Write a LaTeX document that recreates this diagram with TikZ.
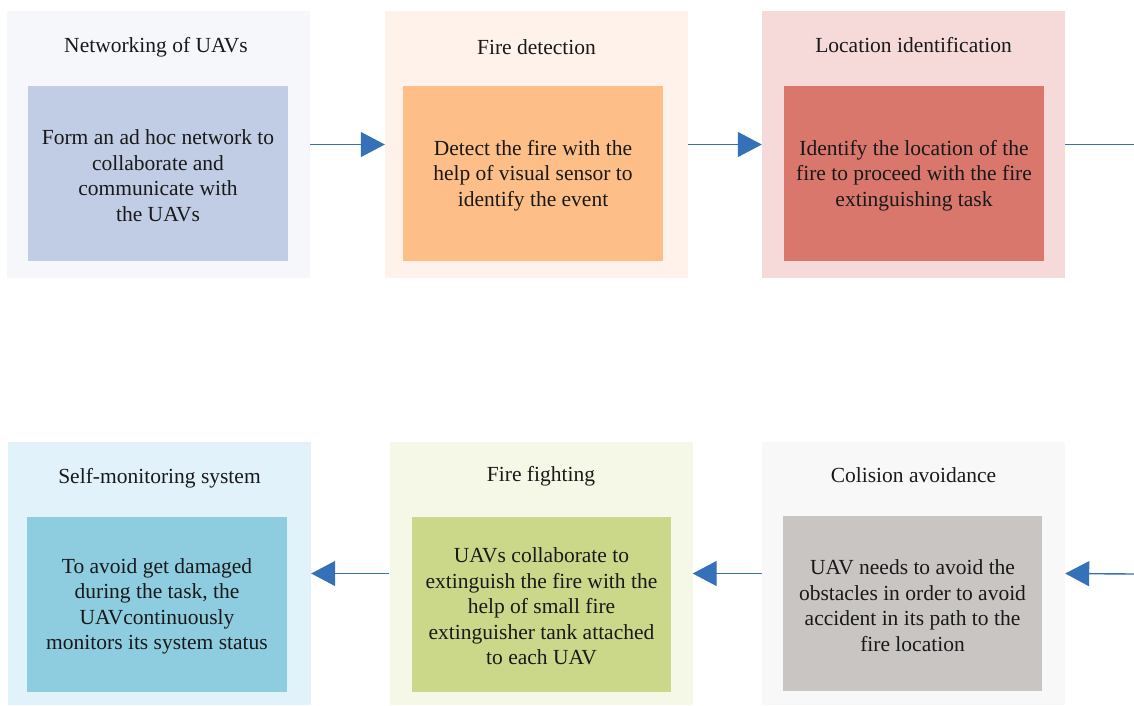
\documentclass[tikz,border=0pt]{standalone}
\usepackage{fontspec}
\setmainfont{Liberation Serif}
\usetikzlibrary{arrows.meta}
\definecolor{o1}{HTML}{F5F7FB}\definecolor{i1}{HTML}{C1CDE4}
\definecolor{o2}{HTML}{FEF2EA}\definecolor{i2}{HTML}{FDBF87}
\definecolor{o3}{HTML}{F6D9D9}\definecolor{i3}{HTML}{D9776D}
\definecolor{o4}{HTML}{E1F2FA}\definecolor{i4}{HTML}{8ECDE0}
\definecolor{o5}{HTML}{F5F8E6}\definecolor{i5}{HTML}{CBD889}
\definecolor{o6}{HTML}{F8F8F8}\definecolor{i6}{HTML}{C9C5C3}
\definecolor{arr}{HTML}{3571B9}
\begin{document}
\begin{tikzpicture}[x=1pt,y=-1pt,
  panel/.style={rectangle,inner sep=0pt,minimum width=303pt,minimum height=267pt},
  innerbox/.style={rectangle,inner sep=0pt,minimum width=260pt,minimum height=175pt},
  bodytext/.style={inner sep=0pt,align=center,font=\fontsize{21.5}{25.5}\selectfont,text=black!90},
  title/.style={inner sep=0pt,font=\fontsize{21.5}{25.5}\selectfont,text=black!90},
  flow/.style={draw=arr,line width=1.4pt,-{Triangle[length=24pt,width=25pt]}},
  flowline/.style={draw=arr,line width=1.4pt}]
\useasboundingbox (0,0) rectangle (1134,705);
\fill[white] (0,0) rectangle (1134,705);
% top row
\node[panel,fill=o1] (p1) at (158.5,144.5) {};
\node[panel,fill=o2] (p2) at (536.5,144.5) {};
\node[panel,fill=o3] (p3) at (913.5,144.5) {};
\node[title] (t1) at (156,47) {Networking of UAVs};
\node[title] (t2) at (536.5,47) {Fire detection};
\node[title] (t3) at (913.5,45) {Location identification};
\node[innerbox,fill=i1] (b1) at (158,173.5) {};
\node[innerbox,fill=i2] (b2) at (533,173.5) {};
\node[innerbox,fill=i3] (b3) at (914,173.5) {};
\node[bodytext] (x1) at ([yshift=-2pt]b1.center) {Form an ad hoc network to\\collaborate and\\communicate with\\the UAVs};
\node[bodytext] (x2) at ([yshift=-2pt]b2.center) {Detect the fire with the\\help of visual sensor to\\identify the event};
\node[bodytext] (x3) at ([yshift=-2pt]b3.center) {Identify the location of the\\fire to proceed with the fire\\extinguishing task};
% bottom row
\node[panel,fill=o4,minimum height=263pt] (p4) at (159.5,573.5) {};
\node[panel,fill=o5,minimum height=263pt] (p5) at (541,573.5) {};
\node[panel,fill=o6,minimum height=263pt] (p6) at (913.5,573.5) {};
\node[title] (t4) at (159.5,478) {Self-monitoring system};
\node[title] (t5) at (541,476) {Fire fighting};
\node[title] (t6) at (913.5,475) {Colision avoidance};
\node[innerbox,fill=i4] (b4) at (157,604.5) {};
\node[innerbox,fill=i5,minimum width=259pt] (b5) at (541.5,604.5) {};
\node[innerbox,fill=i6,minimum width=259pt] (b6) at (912.5,603.5) {};
\node[bodytext] (x4) at ([yshift=-2pt]b4.center) {To avoid get damaged\\during the task, the\\UAVcontinuously\\monitors its system status};
\node[bodytext] (x5) at ([yshift=-2pt]b5.center) {UAVs collaborate to\\extinguish the fire with the\\help of small fire\\extinguisher tank attached\\to each UAV};
\node[bodytext] (x6) at ([yshift=-2pt]b6.center) {UAV needs to avoid the\\obstacles in order to avoid\\accident in its path to the\\fire location};
% connectors
\coordinate (outR) at (1134,144.5);
\coordinate (inR) at (1134,574);
\draw[flow] (p1.east) -- (p2.west);
\draw[flow] (p2.east) -- (p3.west);
\draw[flowline] (p3.east) -- (outR);
\draw[flow] (inR) -- (p6.east);
\draw[flow] (p6.west) -- (p5.east);
\draw[flow] (p5.west) -- (p4.east);
\end{tikzpicture}
\end{document}
